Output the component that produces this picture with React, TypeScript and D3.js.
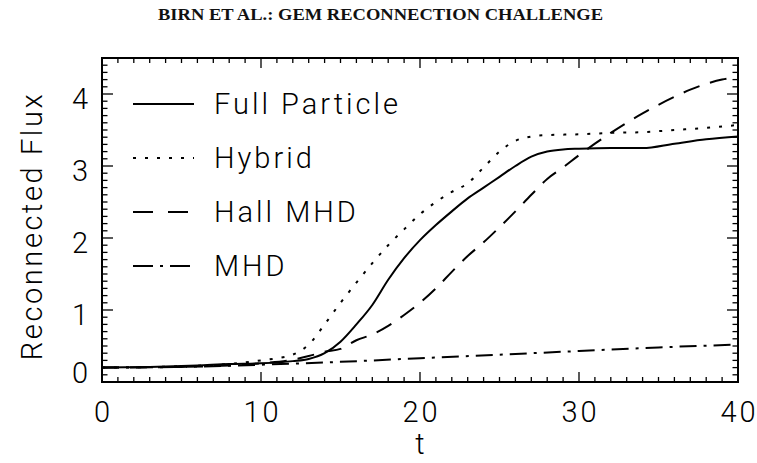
import React from "react";
import * as d3 from "d3";

const title = "BIRN ET AL.: GEM RECONNECTION CHALLENGE";
const xLabel = "t";
const yLabel = "Reconnected Flux";
const xTicks = [0, 10, 20, 30, 40];
const yTicks = [0, 1, 2, 3, 4];

const fullT = [0, 3, 6, 8, 10, 12, 13, 14, 15, 16, 17, 18, 19, 20, 21, 22, 23, 24, 25, 26, 27, 28, 29, 30, 32, 34, 36, 38, 40];
const fullV = [0.2, 0.21, 0.23, 0.25, 0.26, 0.29, 0.32, 0.4, 0.56, 0.8, 1.07, 1.42, 1.72, 1.97, 2.18, 2.37, 2.55, 2.7, 2.85, 3.0, 3.13, 3.2, 3.23, 3.24, 3.25, 3.25, 3.31, 3.37, 3.41];

const hybT = [0, 5, 8, 10, 11, 12, 13, 14, 15, 16, 17, 18, 19, 20, 21, 22, 23, 24, 25, 26, 27, 28, 30, 32, 34, 36, 38, 40];
const hybV = [0.2, 0.22, 0.25, 0.3, 0.33, 0.38, 0.52, 0.8, 1.1, 1.38, 1.65, 1.9, 2.12, 2.33, 2.5, 2.64, 2.76, 2.98, 3.2, 3.35, 3.41, 3.43, 3.44, 3.46, 3.47, 3.5, 3.53, 3.57];

const hallT = [0, 5, 8, 10, 12, 13, 14, 15, 16, 17, 18, 19, 20, 21, 22, 23, 24, 25, 26, 27, 28, 29, 30, 31, 32, 33, 34, 35, 36, 37, 38, 39, 40];
const hallV = [0.2, 0.21, 0.23, 0.26, 0.31, 0.36, 0.42, 0.46, 0.58, 0.66, 0.78, 0.93, 1.1, 1.3, 1.53, 1.75, 1.94, 2.15, 2.37, 2.6, 2.82, 2.98, 3.15, 3.31, 3.46, 3.6, 3.73, 3.85, 3.96, 4.06, 4.14, 4.2, 4.23];

const mhdT = [0, 5, 10, 15, 20, 25, 30, 35, 40];
const mhdV = [0.2, 0.21, 0.24, 0.28, 0.33, 0.38, 0.43, 0.48, 0.52];

const seriesNames = ["Full Particle", "Hybrid", "Hall MHD", "MHD"];
const seriesDash = ["none", "3 9", "17 11", "17 7 3 7"];
const legendDash = ["none", "3 9", "20 15", "20 7 3 7"];

const W = 757;
const H = 463;
const left = 102, right = 738, top = 58, bottom = 382;
const font = "Roboto, 'Open Sans', 'DejaVu Sans', sans-serif";

export default function App() {
  const x = d3.scaleLinear().domain([0, 40]).range([left, right]);
  const y = d3.scaleLinear().domain([0, 4.5]).range([bottom, top]);
  const line = d3
    .line<[number, number]>()
    .x((d) => x(d[0]))
    .y((d) => y(d[1]))
    .curve(d3.curveMonotoneX);

  const series = [
    fullT.map((t, i) => [t, fullV[i]] as [number, number]),
    hybT.map((t, i) => [t, hybV[i]] as [number, number]),
    hallT.map((t, i) => [t, hallV[i]] as [number, number]),
    mhdT.map((t, i) => [t, mhdV[i]] as [number, number]),
  ];

  const xMinor = d3.range(0, 41, 1);
  const yMinor = d3.range(0, 45.01, 1).map((v) => v / 10);

  const textStyle = {
    fontFamily: font,
    fontWeight: 300,
    fontSize: 29,
    letterSpacing: 3,
  } as React.CSSProperties;

  return (
    <svg
      width={W}
      height={H}
      style={{ position: "absolute", left: 0, top: 0, background: "#fff" }}
    >
      <rect x={0} y={0} width={W} height={H} fill="#fff" />
      <text
        x={158}
        y={20}
        textLength={445}
        lengthAdjust="spacingAndGlyphs"
        fontFamily="'Liberation Serif', 'DejaVu Serif', serif"
        fontWeight="bold"
        fontSize={17}
        fill="#111"
      >
        {title}
      </text>

      {/* series */}
      {series.map((s, i) => (
        <path
          key={i}
          d={line(s) || ""}
          fill="none"
          stroke="#000"
          strokeWidth={2}
          strokeDasharray={seriesDash[i]}
        />
      ))}

      {/* frame */}
      <rect
        x={left}
        y={top}
        width={right - left}
        height={bottom - top}
        fill="none"
        stroke="#000"
        strokeWidth={2}
      />

      {/* ticks */}
      {xMinor.map((t) => {
        const major = t % 10 === 0;
        const len = major ? 10 : 5;
        return (
          <g key={"xt" + t}>
            <line x1={x(t)} x2={x(t)} y1={bottom} y2={bottom - len} stroke="#000" strokeWidth={1.3} />
            <line x1={x(t)} x2={x(t)} y1={top} y2={top + len} stroke="#000" strokeWidth={1.3} />
          </g>
        );
      })}
      {yMinor.map((v, i) => {
        const major = i % 10 === 0;
        const len = major ? 11 : 5.5;
        return (
          <g key={"yt" + i}>
            <line x1={left} x2={left + len} y1={y(v)} y2={y(v)} stroke="#000" strokeWidth={1.3} />
            <line x1={right} x2={right - len} y1={y(v)} y2={y(v)} stroke="#000" strokeWidth={1.3} />
          </g>
        );
      })}

      {/* tick labels */}
      {xTicks.map((t) => (
        <text
          key={"xl" + t}
          x={x(t) + 1.5}
          y={422}
          textAnchor="middle"
          style={textStyle}
          fill="#000"
        >
          {t}
        </text>
      ))}
      {yTicks.map((v) => (
        <text
          key={"yl" + v}
          x={91}
          y={v === 0 ? 383 : y(v) + 15}
          textAnchor="end"
          style={textStyle}
          fill="#000"
        >
          {v}
        </text>
      ))}

      {/* axis titles */}
      <text
        x={(left + right) / 2 + 1.5}
        y={454}
        textAnchor="middle"
        style={textStyle}
        fill="#000"
      >
        {xLabel}
      </text>
      <text
        transform={`translate(42, 226) rotate(-90)`}
        textAnchor="middle"
        style={{ ...textStyle, letterSpacing: 2.6 }}
        fill="#000"
      >
        {yLabel}
      </text>

      {/* legend */}
      {seriesNames.map((name, i) => {
        const ly = 104 + i * 54;
        return (
          <g key={"lg" + i}>
            <line
              x1={133}
              x2={194}
              y1={ly}
              y2={ly}
              stroke="#000"
              strokeWidth={2}
              strokeDasharray={legendDash[i]}
            />
            <text x={214} y={ly + 10} style={textStyle} fill="#000">
              {name}
            </text>
          </g>
        );
      })}
    </svg>
  );
}
